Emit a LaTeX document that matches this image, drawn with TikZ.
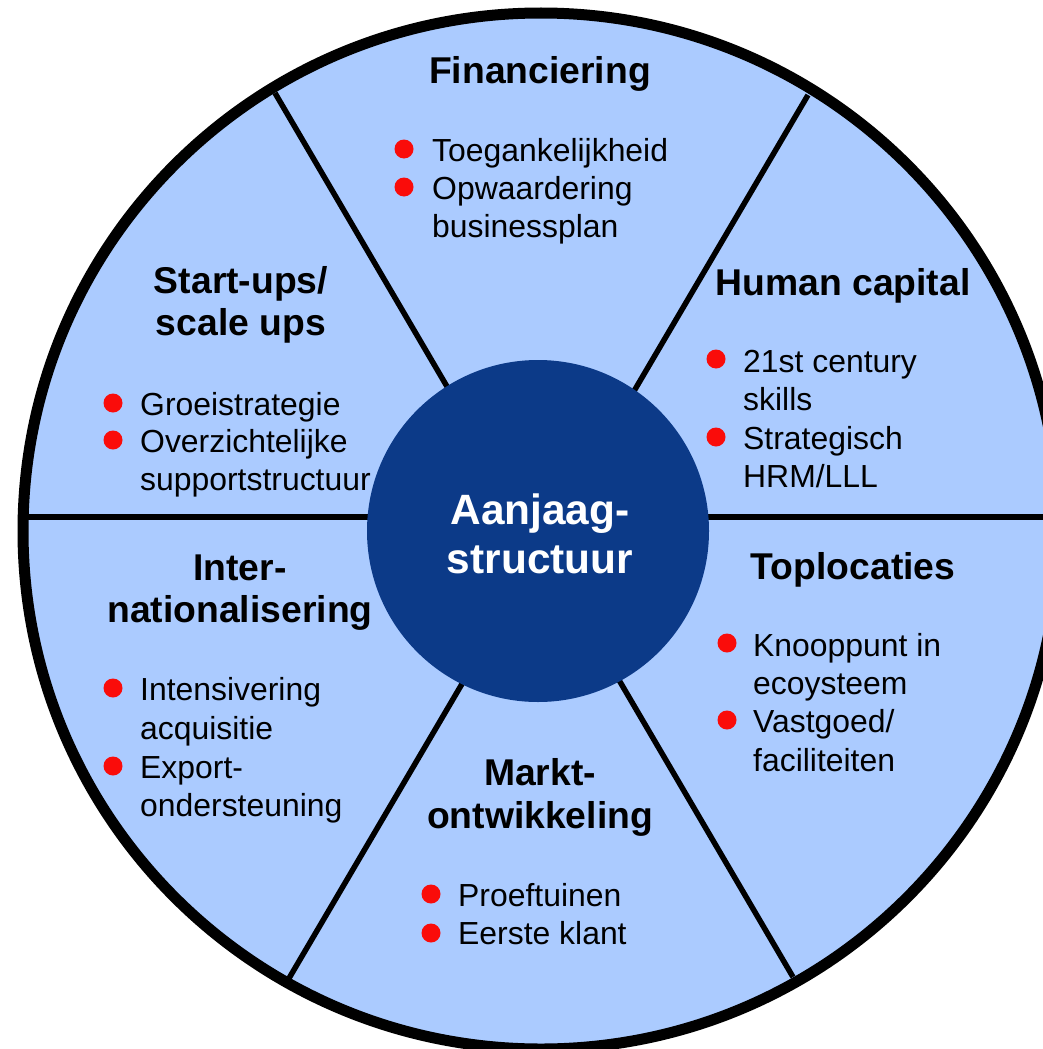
\documentclass[tikz,border=0pt]{standalone}
\usepackage{fontspec}
\setmainfont{Liberation Sans}
\definecolor{wheelfill}{RGB}{171,203,255}
\definecolor{hubblue}{RGB}{12,58,136}
\definecolor{dotred}{RGB}{250,12,10}
\begin{document}
\begin{tikzpicture}[x=1pt,y=-1pt,
  heading/.style={font=\fontsize{37.3}{44}\selectfont\bfseries, anchor=base, inner sep=0pt},
  item/.style={font=\fontsize{31.9}{38}\selectfont, anchor=base west, inner sep=0pt},
  hubtext/.style={font=\fontsize{42.4}{48}\selectfont\bfseries, text=white, anchor=base, inner sep=0pt},
  bullet/.style={circle, fill=dotred, minimum size=19pt, inner sep=0pt},
  divider/.style={line width=5.5pt}]
\useasboundingbox (0,0) rectangle (1043,1049);
\clip (0,0) rectangle (1043,1049);
% outer wheel
\fill[wheelfill] (541,531) circle (518);
\coordinate (tl) at (275,93);
\coordinate (br) at (793,977);
\coordinate (tr) at (808,95);
\coordinate (bl) at (288,980);
\coordinate (hl) at (21,517);
\coordinate (hr) at (1062,517);
\draw[divider] (tl) -- (br);
\draw[divider] (tr) -- (bl);
\draw[divider] (hl) -- (hr);
\draw[line width=11pt] (541,531) circle (518);
% hub
\node[circle, fill=hubblue, minimum size=342pt, inner sep=0pt] (hub) at (538,531) {};
\node[hubtext] (hub1) at (540,524) {Aanjaag-};
\node[hubtext] (hub2) at (540,573) {structuur};
% Financiering
\node[heading] (fin) at (540,84) {Financiering};
\node[bullet] (fd1) at (404,149) {};
\node[item] (fi1) at (432,161.5) {Toegankelijkheid};
\node[bullet] (fd2) at (404,187) {};
\node[item] (fi2) at (432,199.5) {Opwaardering};
\node[item] (fi3) at (432,237.5) {businessplan};
% Start-ups
\node[heading] (st1) at (241,293) {Start-ups/};
\node[heading] (st2) at (241,335) {scale ups};
\node[bullet] (sd1) at (113,403) {};
\node[item] (si1) at (140,415) {Groeistrategie};
\node[bullet] (sd2) at (113,440) {};
\node[item] (si2) at (140,452) {Overzichtelijke};
\node[item] (si3) at (140,490) {supportstructuur};
% Human capital
\node[heading] (hc) at (843,295) {Human capital};
\node[bullet] (hd1) at (716,359) {};
\node[item] (hi1) at (743,372) {21st century};
\node[item] (hi2) at (743,410) {skills};
\node[bullet] (hd2) at (716,437) {};
\node[item] (hi3) at (743,449) {Strategisch};
\node[item] (hi4) at (743,487) {HRM/LLL};
% Toplocaties
\node[heading] (tp) at (853,579) {Toplocaties};
\node[bullet] (td1) at (727,643) {};
\node[item] (ti1) at (753,656) {Knooppunt in};
\node[item] (ti2) at (753,694) {ecoysteem};
\node[bullet] (td2) at (727,720) {};
\node[item] (ti3) at (753,732) {Vastgoed/};
\node[item] (ti4) at (753,771) {faciliteiten};
% Internationalisering
\node[heading] (in1) at (240,580) {Inter-};
\node[heading] (in2) at (240,622) {nationalisering};
\node[bullet] (id1) at (113,688) {};
\node[item] (ii1) at (140,700) {Intensivering};
\node[item] (ii2) at (140,739) {acquisitie};
\node[bullet] (id2) at (113,766) {};
\node[item] (ii3) at (140,778) {Export-};
\node[item] (ii4) at (140,816) {ondersteuning};
% Marktontwikkeling
\node[heading] (mk1) at (540,785) {Markt-};
\node[heading] (mk2) at (540,828) {ontwikkeling};
\node[bullet] (md1) at (431,894) {};
\node[item] (mi1) at (458,906) {Proeftuinen};
\node[bullet] (md2) at (431,933) {};
\node[item] (mi2) at (458,944) {Eerste klant};
\end{tikzpicture}
\end{document}
